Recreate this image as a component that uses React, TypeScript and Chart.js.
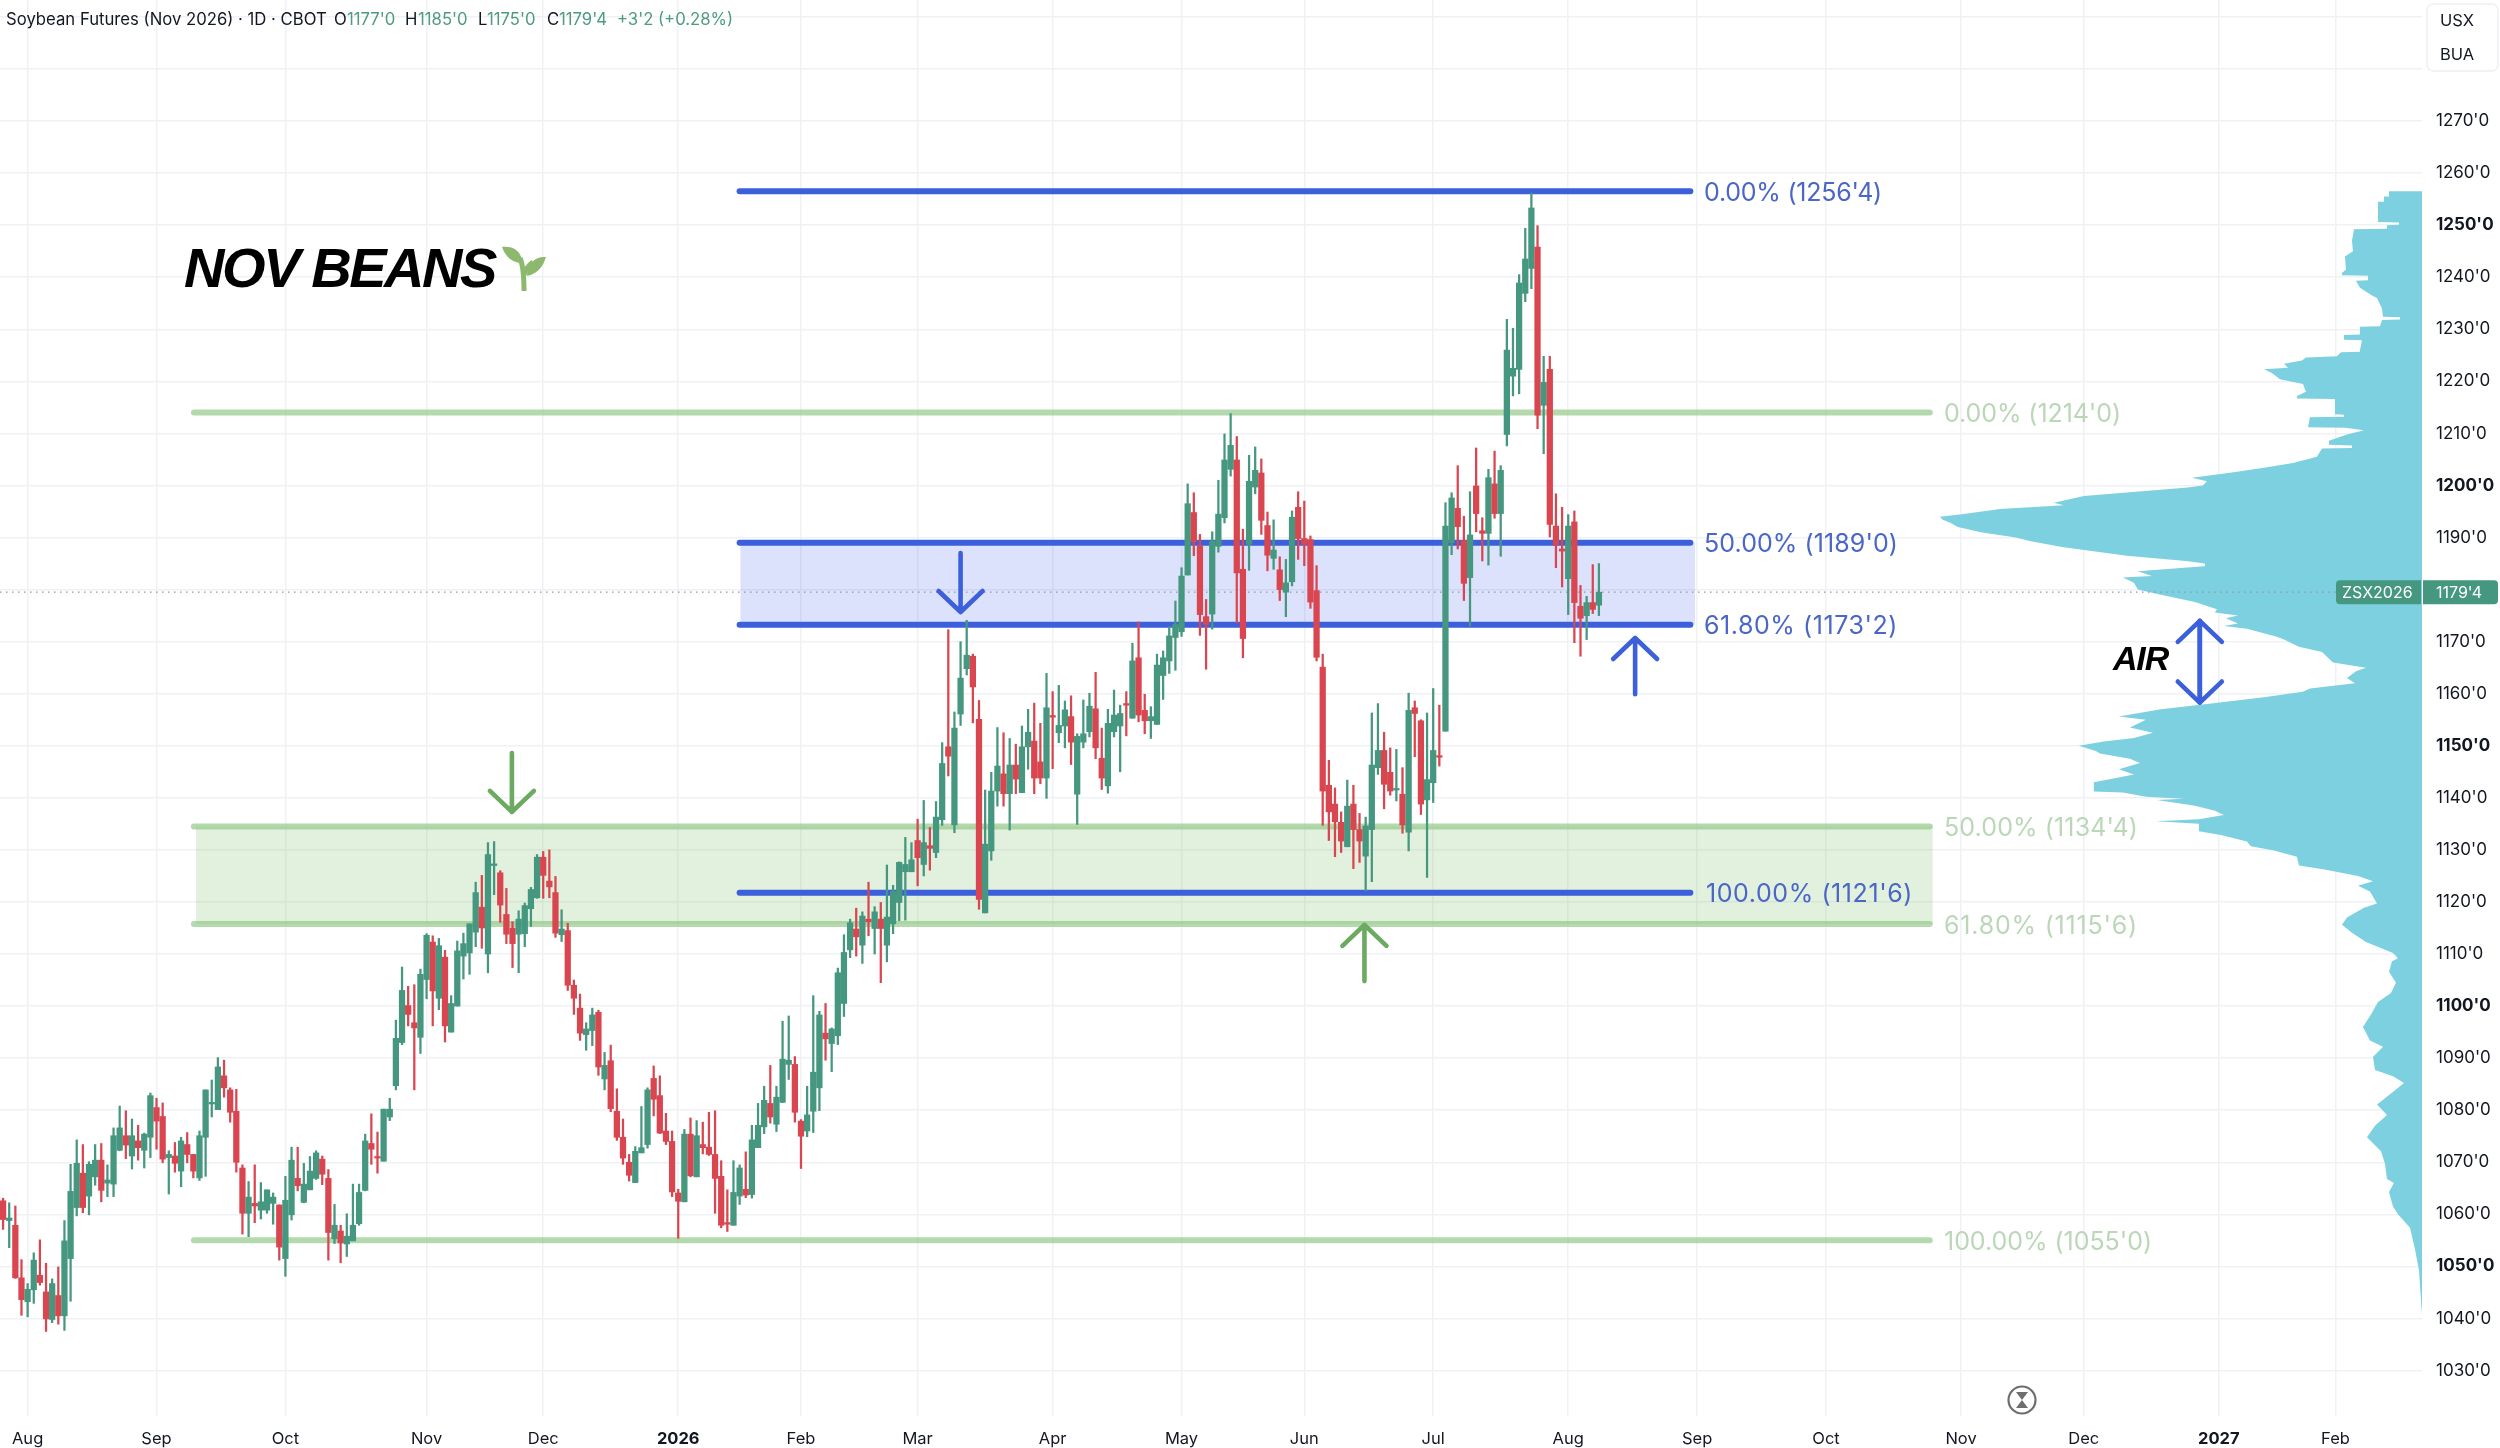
import React, { useEffect, useRef } from "react";
import { Chart, registerables } from "chart.js";

Chart.register(...registerables);

const FONT = "Inter";
const firstBar = -4;

const highs = [
1063.1,1062.2,1061.6,1051.3,1046.7,1052.6,1055.1,1050.6,1047.6,1049.9,
1058.8,1069.6,1074.3,1073.4,1070.1,1073.4,1073.6,1069.5,1076.6,1080.8,
1079.9,1078.3,1077.1,1075.6,1083.3,1082.3,1081.4,1072.2,1073.8,1074.8,
1075.7,1071.5,1076.0,1083.9,1085.8,1090.1,1089.6,1084.3,1084.0,1069.5,
1066.3,1069.5,1066.1,1064.7,1064.1,1061.8,1067.3,1072.9,1072.9,1069.8,
1071.1,1072.2,1071.2,1068.6,1061.9,1057.9,1060.1,1065.8,1065.8,1075.4,
1079.3,1075.8,1080.2,1082.3,1097.3,1107.5,1103.8,1104.1,1107.1,1113.9,
1113.5,1113.0,1110.7,1102.0,1112.5,1114.0,1115.8,1123.8,1125.1,1131.4,
1131.6,1126.0,1122.6,1116.2,1118.3,1119.8,1122.8,1129.1,1129.7,1130.0,
1124.9,1118.5,1115.9,1105.0,1102.3,1096.8,1099.6,1099.2,1091.1,1092.5,
1084.1,1078.3,1071.5,1073.0,1080.7,1084.3,1088.5,1086.6,1079.4,1076.0,
1064.8,1076.3,1078.5,1078.0,1077.7,1079.6,1079.9,1070.3,1064.7,1070.3,
1069.5,1072.0,1077.1,1081.3,1084.6,1088.6,1084.6,1097.1,1098.1,1090.3,
1078.2,1084.6,1102.0,1099.0,1100.5,1095.8,1107.3,1113.7,1116.7,1118.8,
1118.1,1123.8,1119.1,1119.9,1127.1,1123.2,1127.7,1132.4,1131.4,1135.9,
1139.5,1134.3,1139.3,1150.6,1172.3,1156.5,1170.0,1174.1,1167.6,1158.7,
1141.5,1144.9,1153.5,1152.5,1151.4,1150.3,1153.8,1157.0,1158.2,1154.3,
1163.9,1160.4,1161.6,1158.6,1159.6,1152.3,1158.8,1160.1,1164.1,1153.4,
1157.0,1160.7,1157.8,1160.4,1169.7,1173.8,1159.9,1157.5,1167.6,1168.2,
1172.9,1177.8,1184.2,1200.3,1198.6,1190.6,1178.1,1191.1,1201.0,1209.9,
1213.8,1209.4,1191.6,1205.8,1207.4,1205.1,1194.9,1193.4,1186.3,1185.8,
1195.1,1198.8,1197.0,1190.3,1184.6,1167.6,1147.2,1141.9,1137.3,1143.4,
1142.4,1137.0,1136.3,1156.3,1158.1,1152.6,1149.6,1149.3,1145.8,1160.1,
1158.6,1155.0,1156.3,1161.0,1157.8,1196.7,1198.6,1203.8,1194.1,1198.8,
1207.2,1193.8,1203.1,1206.6,1203.8,1231.9,1230.2,1240.5,1249.4,1256.2,
1249.9,1224.8,1224.8,1198.4,1195.8,1194.4,1195.1,1180.8,1178.7,1184.8,1185,
];

const lows = [
1057.1,1053.6,1047.7,1040.6,1040.3,1042.9,1046.4,1037.5,1039.2,1038.9,
1037.7,1043.3,1059.7,1060.3,1059.9,1065.6,1062.4,1063.4,1063.4,1072.2,
1070.7,1068.7,1070.4,1068.9,1070.9,1072.5,1069.9,1063.9,1068.1,1065.3,
1069.9,1067.0,1066.5,1067.3,1078.7,1080.1,1082.5,1077.7,1068.1,1056.2,
1055.7,1058.4,1059.1,1060.2,1058.1,1051.2,1048.1,1058.9,1064.5,1062.2,
1064.7,1066.7,1065.7,1051.2,1054.4,1050.7,1051.9,1054.9,1057.9,1064.5,
1069.6,1067.9,1070.2,1078.0,1083.9,1092.6,1096.2,1083.9,1090.9,1101.4,
1096.2,1099.3,1093.1,1095.0,1100.0,1105.2,1106.1,1111.4,1111.1,1106.4,
1121.4,1116.1,1112.0,1107.4,1106.4,1111.4,1115.3,1120.7,1120.7,1120.8,
1113.2,1112.4,1103.0,1098.4,1093.4,1091.5,1092.4,1086.7,1083.9,1079.7,
1074.2,1069.6,1066.4,1066.1,1071.8,1072.7,1078.9,1075.5,1073.4,1063.4,
1055.4,1062.4,1067.2,1067.2,1071.6,1071.3,1060.2,1057.4,1056.7,1057.9,
1061.9,1063.2,1063.1,1072.8,1075.5,1077.5,1075.9,1081.5,1085.9,1077.7,
1068.8,1074.9,1075.7,1079.9,1089.6,1087.4,1092.6,1098.0,1109.3,1109.6,
1108.2,1113.5,1110.0,1104.5,1108.5,1113.9,1116.4,1116.5,1125.8,1123.1,
1125.0,1126.1,1128.5,1134.7,1144.2,1133.3,1153.9,1163.6,1154.4,1118.6,
1117.9,1128.0,1138.4,1138.4,1133.8,1140.8,1141.0,1145.5,1140.8,1142.7,
1139.9,1145.6,1150.6,1149.6,1146.4,1134.9,1149.6,1151.7,1147.5,1141.6,
1140.9,1151.7,1145.0,1151.9,1155.3,1154.6,1152.3,1151.4,1154.1,1158.9,
1163.9,1164.5,1171.0,1182.8,1186.5,1171.2,1164.7,1172.4,1187.2,1192.8,
1201.8,1173.6,1166.9,1183.7,1198.4,1190.6,1183.6,1183.9,1177.9,1174.8,
1180.7,1185.8,1184.6,1176.4,1166.3,1134.7,1131.8,1128.7,1129.5,1130.6,
1126.4,1127.6,1122.1,1123.9,1144.5,1137.9,1140.5,1139.4,1133.2,1129.8,
1147.9,1136.8,1124.7,1139.1,1146.1,1152.8,1186.7,1187.8,1177.9,1173.0,
1191.1,1185.5,1184.7,1193.7,1186.4,1207.6,1217.2,1217.6,1235.3,1237.8,
1210.9,1206.1,1190.1,1184.2,1180.5,1175.2,1169.8,1167.2,1170.4,1175.4,1175,
];

const opens = [
1062.6,1058.8,1057.9,1047.8,1043.2,1045.5,1048.3,1045.1,1039.8,1044.4,
1040.5,1051.5,1061.3,1067.9,1063.5,1067.2,1070.4,1066.0,1065.8,1072.3,
1075.1,1071.2,1074.1,1072.3,1074.8,1080.5,1078.8,1070.9,1071.2,1068.3,
1073.4,1071.5,1067.0,1074.8,1081.2,1080.1,1086.6,1083.9,1079.8,1068.9,
1060.2,1062.1,1060.8,1060.8,1062.1,1061.8,1051.5,1059.9,1066.9,1062.3,
1064.7,1066.9,1070.6,1066.9,1055.3,1056.8,1054.3,1054.9,1058.2,1064.6,
1073.6,1071.1,1070.2,1078.7,1084.7,1093.0,1100.1,1096.8,1094.0,1105.1,
1112.3,1101.5,1109.4,1095.0,1100.0,1109.6,1110.2,1114.2,1119.0,1110.0,
1127.0,1125.6,1117.6,1115.0,1113.8,1113.9,1118.7,1120.8,1128.6,1124.0,
1121.8,1113.7,1114.5,1104.0,1099.6,1094.5,1095.3,1098.8,1086.0,1089.5,
1079.8,1074.8,1070.0,1066.1,1071.8,1073.4,1086.1,1082.8,1076.0,1074.0,
1064.1,1062.4,1075.4,1067.2,1073.4,1072.9,1071.5,1067.3,1058.2,1057.9,
1063.5,1064.8,1063.8,1072.8,1076.8,1081.3,1077.3,1081.5,1088.8,1088.8,
1077.9,1076.0,1079.8,1084.3,1094.8,1092.8,1094.3,1100.5,1110.8,1114.8,
1111.7,1116.7,1114.9,1116.7,1111.7,1115.8,1119.9,1125.8,1125.8,1131.8,
1127.2,1130.8,1129.5,1135.8,1149.8,1134.8,1156.1,1164.8,1167.2,1155.1,
1117.9,1129.8,1141.3,1144.6,1140.8,1146.3,1141.0,1149.8,1150.9,1146.9,
1143.8,1155.8,1152.5,1153.8,1155.6,1140.7,1150.7,1152.7,1157.1,1147.6,
1142.3,1152.7,1153.8,1158.1,1155.3,1166.9,1156.8,1154.8,1154.1,1163.5,
1166.3,1170.8,1171.9,1182.8,1194.8,1188.4,1174.8,1175.3,1188.3,1193.8,
1203.1,1204.9,1183.9,1188.7,1199.7,1202.4,1192.3,1186.0,1183.8,1179.5,
1181.5,1195.8,1189.8,1189.6,1179.8,1165.1,1142.4,1138.8,1135.3,1130.6,
1138.8,1133.9,1128.8,1133.9,1145.8,1149.1,1144.9,1141.5,1140.7,1133.4,
1157.3,1154.8,1139.6,1142.9,1148.0,1152.8,1189.0,1195.6,1189.4,1182.3,
1199.9,1191.3,1190.8,1200.3,1194.6,1209.8,1221.0,1222.3,1236.9,1241.7,
1245.8,1215.4,1222.3,1192.2,1187.8,1182.1,1193.0,1176.8,1175.0,1177.5,1177,
];

const closes = [
1059.0,1059.3,1047.8,1043.6,1045.6,1051.2,1046.9,1039.9,1046.7,1040.5,
1054.9,1064.4,1069.8,1061.3,1069.6,1070.4,1064.6,1066.6,1075.1,1076.6,
1073.3,1075.1,1072.8,1075.4,1082.8,1077.9,1070.6,1071.5,1069.8,1074.1,
1071.5,1068.3,1075.1,1083.9,1081.5,1088.3,1084.3,1079.6,1070.0,1060.2,
1063.3,1061.6,1062.4,1064.7,1063.3,1053.7,1062.7,1070.4,1065.5,1065.8,
1068.3,1071.8,1067.7,1056.5,1057.9,1054.5,1055.8,1057.9,1064.2,1074.1,
1072.5,1070.8,1080.2,1080.2,1093.8,1103.0,1098.4,1095.8,1106.1,1113.6,
1102.9,1111.6,1096.2,1100.5,1110.6,1112.0,1115.8,1121.8,1115.0,1129.1,
1127.3,1119.4,1113.8,1112.0,1116.7,1119.3,1122.4,1128.6,1125.1,1122.9,
1114.0,1114.8,1104.0,1101.5,1094.8,1095.6,1098.3,1088.3,1088.6,1080.3,
1074.8,1070.8,1067.5,1072.1,1072.8,1083.9,1082.1,1075.6,1074.0,1064.3,
1062.5,1075.4,1067.4,1075.1,1072.8,1071.5,1066.9,1057.9,1058.1,1064.2,
1068.9,1063.7,1074.3,1077.1,1081.9,1078.7,1082.5,1089.8,1089.6,1079.6,
1075.0,1079.1,1087.3,1098.3,1093.7,1095.6,1106.4,1110.3,1116.0,1113.3,
1117.3,1116.2,1118.1,1114.9,1117.1,1122.0,1127.6,1127.2,1128.1,1128.5,
1131.4,1130.3,1136.3,1146.6,1148.0,1153.4,1163.0,1167.4,1161.3,1120.5,
1131.1,1141.3,1146.1,1140.8,1146.3,1143.6,1149.8,1152.6,1143.8,1143.8,
1157.3,1155.5,1153.9,1156.9,1150.7,1151.8,1152.3,1157.6,1149.6,1143.8,
1154.3,1155.9,1156.2,1157.8,1166.3,1155.9,1154.8,1155.6,1165.5,1166.9,
1171.1,1173.3,1182.6,1196.5,1189.2,1175.2,1173.3,1189.3,1194.5,1204.9,
1207.7,1183.2,1170.6,1200.8,1202.9,1193.3,1186.6,1187.6,1180.0,1181.3,
1193.9,1189.8,1188.7,1177.6,1167.0,1141.3,1137.3,1135.4,1131.7,1138.4,
1133.9,1131.7,1134.6,1146.3,1149.1,1142.6,1141.3,1141.8,1134.8,1156.8,
1156.2,1138.8,1143.5,1149.1,1147.8,1192.2,1197.6,1192.1,1181.2,1190.5,
1194.6,1190.8,1201.5,1194.6,1202.9,1226.0,1222.5,1238.9,1243.5,1253.3,
1213.5,1219.8,1192.5,1188.5,1187.4,1192.2,1177.5,1174.5,1177.5,1176.2,1179.5,
];

const profilePrices = [
1256.5,1256.5,1255.5,1255.5,1254.5,1254.5,1250.6,1250.5,1250.1,1250,1249.3,1249.2,1247,1245,1244,1241.5,1240.8,1240.4,1240.3,1239.4,1239.3,1238,1236.5,1236,1234,1232.4,1232.3,1231.9,1231.8,1230.6,1230.5,1229,1228.9,1228,1227.9,1226,1225.7,1225.6,1224.8,1224.6,1224,1223.4,1222.6,1222.3,1221.6,1220.4,1219.5,1218,1217.2,1216.7,1216.6,1213.7,1213.6,1213.2,1213.1,1211.2,1211.1,1210.6,1209.8,1208.6,1207.8,1207.7,1207.2,1207.1,1205.5,1204.3,1203.4,1202.5,1201.5,
1200.8,1200,1199.6,1198,1196.7,1196.2,1195.5,1194.5,1194,1193.4,1192.8,1192,1191,1190,1189.3,1188.2,1186.5,1185.5,1185,1184.5,1184.2,1183.5,1182.6,1182.3,1181.3,1180,1179,1177.6,1176.2,1175.6,1175,1174.5,1173.5,1173,1172.5,1171,1170.5,1169,1168,1166,1165,1164.3,1163,1162,1161,1160.4,1159.3,1158,1157,1155.6,1155,1153.5,1152.5,1151.5,1150.8,1150,1149,1148.5,1147.5,1146.7,1145.5,1144.5,1143,1141.2,1141,1140.2,1139.8,1139.6,1138.5,1137.5,1136.7,1135.9,1135.5,1135,1133.6,1132.8,1131.6,1130.7,1129.9,1128.7,1127,1126.2,1125,1124,1123.1,1122,1119.7,1118.9,1117,1115.6,1114.1,1112.3,1110.2,1109.2,1108.6,1106.6,1104.5,1102.5,1100.8,1098.4,1096,1093.4,1092.2,1090.2,1087.7,1086.5,1085.2,1083.2,1081.1,1079.1,1077,1074.8,1072.1,1069.7,1066.8,1066,1064.3,1061.5,1060,1057.4,1053.3,1049.2,1045,1040.6,
];

const profileVolumes = [
0,33,33,38,38,44,44,23,23,35,35,68,70,69,77,76,80,80,54,54,66,62,50,45,40,39,22,22,40,42,62,62,78,78,60,62,62,81,85,116,120,138,134,158,150,142,119,116,125,125,87,87,78,78,112,114,77,58,75,93,93,70,70,100,105,129,158,190,230,
215,219,234,338,368,358,422,458,482,479,471,464,441,406,391,360,295,236,217,217,238,284,270,299,288,284,261,227,205,207,184,196,184,198,175,146,139,123,100,89,56,66,75,67,112,119,158,215,261,303,276,292,269,288,318,343,326,322,292,282,303,288,328,328,299,276,238,265,227,207,198,223,266,223,223,200,175,171,148,125,123,96,64,49,64,52,45,58,75,80,70,56,29,24,30,33,26,31,44,51,59,52,39,49,47,29,18,31,45,35,47,55,41,37,35,28,33,29,24,12,7,3,1.5,0,
];
const profileAxisMax = 2421;

const priceTicks = [1290,1280,1270,1260,1250,1240,1230,1220,1210,1200,1190,1180,1170,1160,1150,1140,1130,1120,1110,1100,1090,1080,1070,1060,1050,1040,1030];
const boldPrices = [1250, 1200, 1150, 1100, 1050];
const hiddenPriceLabels = [1290, 1280, 1180];

const monthBars = [0, 21, 42, 65, 84, 106, 126, 145, 167, 188, 208, 229, 251, 272, 293, 315, 335, 357, 376];
const monthLabels = ["Aug", "Sep", "Oct", "Nov", "Dec", "2026", "Feb", "Mar", "Apr", "May", "Jun", "Jul", "Aug", "Sep", "Oct", "Nov", "Dec", "2027", "Feb"];

const blueFib = { start: 116.0, end: 270.9, bandStart: 116.1, bandEnd: 271.7, levels: [1256.5, 1189, 1173.25, 1121.75], labels: ["0.00% (1256'4)", "50.00% (1189'0)", "61.80% (1173'2)", "100.00% (1121'6)"] };
const greenFib = { start: 27.1, end: 309.9, bandStart: 27.4, bandEnd: 310.4, levels: [1214, 1134.5, 1115.75, 1055], labels: ["0.00% (1214'0)", "50.00% (1134'4)", "61.80% (1115'6)", "100.00% (1055'0)"] };
const blueLabelWidths = [178, 194, 194, 207];
const greenLabelWidths = [177, 194, 194, 208];

const lastPrice = 1179.5;
const xMinBar = -4.5;
const xMaxBar = 390.1;
const yMin = 1021.26;
const yMax = 1293.25;

const GREEN = "#45977F";
const RED = "#DA4650";
const BLUE = "#3C5FDC";
const ARROW_GREEN = "#6BAA60";

const arrows = [
  { bar: 152.0, tip: 1175.7, tail: 1187, color: BLUE },
  { bar: 261.9, tip: 1170.7, tail: 1159.9, color: BLUE },
  { bar: 78.9, tip: 1137.3, tail: 1148.6, color: ARROW_GREEN },
  { bar: 217.8, tip: 1115.6, tail: 1104.8, color: ARROW_GREEN },
  { bar: 353.9, tip: 1174, tail: 1158.3, color: BLUE },
  { bar: 353.9, tip: 1158.3, tail: 1174, color: BLUE },
];

function fitText(ctx: any, text: string, x: number, y: number, width: number) {
  ctx.letterSpacing = "0px";
  const natural = ctx.measureText(text).width;
  ctx.letterSpacing = `${(width - natural) / text.length}px`;
  ctx.fillText(text, x, y);
  ctx.letterSpacing = "0px";
}

const overlayPlugin = {
  id: "overlay",
  afterDatasetsDraw(chart: any) {
    const ctx = chart.ctx;
    const xs = chart.scales.x;
    const ys = chart.scales.y;
    ctx.save();
    ctx.textBaseline = "middle";
    ctx.textAlign = "left";

    ctx.font = `400 25px ${FONT}`;
    ctx.fillStyle = "#4A66C6";
    blueFib.levels.forEach((lv, i) => {
      const px = i === 3 ? 1706 : 1704;
      fitText(ctx, blueFib.labels[i], px, ys.getPixelForValue(lv) + 2, blueLabelWidths[i]);
    });
    ctx.fillStyle = "#BBD7B8";
    greenFib.levels.forEach((lv, i) => {
      fitText(ctx, greenFib.labels[i], 1944, ys.getPixelForValue(lv) + 2, greenLabelWidths[i]);
    });

    ctx.lineCap = "round";
    ctx.lineJoin = "round";
    arrows.forEach((a) => {
      const x = xs.getPixelForValue(a.bar);
      const yt = ys.getPixelForValue(a.tip);
      const yb = ys.getPixelForValue(a.tail);
      const dir = yb > yt ? 1 : -1;
      ctx.strokeStyle = a.color;
      ctx.lineWidth = 4.6;
      ctx.beginPath();
      ctx.moveTo(x, yb);
      ctx.lineTo(x, yt);
      ctx.moveTo(x - 22, yt + dir * 21);
      ctx.lineTo(x, yt);
      ctx.lineTo(x + 22, yt + dir * 21);
      ctx.stroke();
    });

    ctx.fillStyle = "#000";
    ctx.font = `italic 700 56px "Liberation Sans"`;
    fitText(ctx, "NOV BEANS", 184, 272, 311);
    ctx.font = `italic 700 34px "Liberation Sans"`;
    fitText(ctx, "AIR", 2113, 661, 55);

    ctx.strokeStyle = "#8DB96F";
    ctx.fillStyle = "#8DB96F";
    ctx.lineWidth = 5;
    ctx.lineCap = "butt";
    ctx.beginPath();
    ctx.moveTo(524, 291);
    ctx.bezierCurveTo(524, 275, 523, 265, 520, 258);
    ctx.moveTo(524, 275);
    ctx.bezierCurveTo(525, 270, 529, 265, 533, 262);
    ctx.stroke();
    ctx.beginPath();
    ctx.moveTo(502, 247);
    ctx.bezierCurveTo(512, 246, 522, 250, 522, 263);
    ctx.bezierCurveTo(512, 263, 505, 256, 502, 247);
    ctx.moveTo(546, 257);
    ctx.bezierCurveTo(536, 256, 527, 263, 527, 276);
    ctx.bezierCurveTo(537, 274, 543, 267, 546, 257);
    ctx.fill();

    ctx.font = `400 16.7px ${FONT}`;
    ctx.fillStyle = "#131722";
    ctx.fillText("Soybean Futures (Nov 2026) · 1D · CBOT", 6, 20);
    [["O", 334], ["H", 405], ["L", 478], ["C", 547]].forEach(([t, x]: any) => ctx.fillText(t, x, 20));
    ctx.fillStyle = "#4F9A84";
    [["1177'0", 347], ["1185'0", 418], ["1175'0", 487], ["1179'4", 559], ["+3'2 (+0.28%)", 617]].forEach(([t, x]: any) => ctx.fillText(t, x, 20));

    ctx.strokeStyle = "#EEF0F2";
    ctx.lineWidth = 1.5;
    ctx.fillStyle = "#fff";
    ctx.beginPath();
    ctx.roundRect(2427, 4, 71, 67, 6);
    ctx.fill();
    ctx.stroke();
    ctx.fillStyle = "#131722";
    ctx.font = `400 16.5px ${FONT}`;
    ctx.fillText("USX", 2440, 21);
    ctx.fillText("BUA", 2440, 55);

    const tagY = ys.getPixelForValue(lastPrice);
    ctx.fillStyle = "#45977F";
    ctx.beginPath();
    ctx.roundRect(2336, tagY - 12, 85, 24, [4, 0, 0, 4]);
    ctx.fill();
    ctx.beginPath();
    ctx.roundRect(2423, tagY - 12, 75, 24, [0, 4, 4, 0]);
    ctx.fill();
    ctx.fillStyle = "#FFFFFF";
    ctx.font = `400 16px ${FONT}`;
    ctx.fillText("ZSX2026", 2342, tagY + 0.5);
    ctx.fillText("1179'4", 2436, tagY + 0.5);

    ctx.strokeStyle = "#6E6E6E";
    ctx.fillStyle = "#6E6E6E";
    ctx.lineWidth = 2.2;
    ctx.beginPath();
    ctx.arc(2022, 1400, 13.5, 0, Math.PI * 2);
    ctx.stroke();
    ctx.beginPath();
    ctx.moveTo(2016, 1392);
    ctx.lineTo(2028, 1392);
    ctx.lineTo(2022, 1400);
    ctx.lineTo(2028, 1408);
    ctx.lineTo(2016, 1408);
    ctx.lineTo(2022, 1400);
    ctx.closePath();
    ctx.fill();
    ctx.restore();
  },
};

function hLine(start: number, end: number, level: number) {
  return [{ x: start, y: level }, { x: end, y: level }];
}

export default function App() {
  const ref = useRef<HTMLCanvasElement | null>(null);

  useEffect(() => {
    if (!ref.current) return;
    const barX = (i: number) => firstBar + i;
    const colors = closes.map((c, i) => (c >= opens[i] ? GREEN : RED));
    const fibLine = (start: number, end: number, lv: number, color: string, order: number) => ({
      type: "line",
      data: hLine(start, end, lv),
      borderColor: color,
      borderWidth: 6,
      borderCapStyle: "round",
      pointRadius: 0,
      order,
    });
    const bandEdge = (start: number, end: number, lv: number, fill: any, color: string) => ({
      type: "line",
      data: hLine(start, end, lv),
      borderWidth: 0,
      borderColor: "rgba(0,0,0,0)",
      backgroundColor: color,
      pointRadius: 0,
      fill,
      order: 5,
    });
    const datasets: any[] = [
      {
        type: "bar",
        data: highs.map((h, i) => ({ x: barX(i), y: [lows[i], h] })),
        backgroundColor: colors,
        barThickness: 1.6,
        grouped: false,
        order: 1,
      },
      {
        type: "bar",
        data: opens.map((o, i) => ({ x: barX(i), y: [Math.min(o, closes[i]), Math.max(o, closes[i])] })),
        backgroundColor: colors,
        barThickness: 5.6,
        minBarLength: 1.6,
        grouped: false,
        order: 0,
      },
      {
        type: "line",
        data: hLine(xMinBar, xMaxBar, lastPrice),
        borderColor: "#8E98A0",
        borderWidth: 1.3,
        borderDash: [1.5, 4.5],
        pointRadius: 0,
        order: 2,
      },
      ...greenFib.levels.map((lv) => fibLine(greenFib.start, greenFib.end, lv, "rgba(150,202,140,0.72)", 3)),
      ...blueFib.levels.map((lv) => fibLine(blueFib.start, blueFib.end, lv, BLUE, 2.5)),
      bandEdge(greenFib.bandStart, greenFib.bandEnd, greenFib.levels[1], "+1", "rgba(140,195,125,0.25)"),
      bandEdge(greenFib.bandStart, greenFib.bandEnd, greenFib.levels[2], false, "rgba(0,0,0,0)"),
      bandEdge(blueFib.bandStart, blueFib.bandEnd, blueFib.levels[1], "+1", "rgba(80,110,235,0.2)"),
      bandEdge(blueFib.bandStart, blueFib.bandEnd, blueFib.levels[2], false, "rgba(0,0,0,0)"),
      {
        type: "line",
        xAxisID: "xVol",
        data: profilePrices.map((p, i) => ({ x: profileVolumes[i], y: p })),
        borderWidth: 0,
        borderColor: "rgba(0,0,0,0)",
        backgroundColor: "#7DD0E0",
        pointRadius: 0,
        fill: "shape",
        order: 6,
      },
    ];

    const chart = new Chart(ref.current, {
      type: "bar",
      data: { datasets },
      plugins: [overlayPlugin],
      options: {
        animation: false,
        responsive: false,
        devicePixelRatio: 1,
        layout: { padding: 0 },
        plugins: { legend: { display: false }, tooltip: { enabled: false }, title: { display: false } },
        scales: {
          x: {
            type: "linear",
            min: xMinBar,
            max: xMaxBar,
            offset: false,
            position: "bottom",
            afterFit: (s: any) => { s.height = 32; s.paddingLeft = 0; s.paddingRight = 0; },
            afterBuildTicks: (s: any) => { s.ticks = monthBars.map((value) => ({ value })); },
            grid: { color: "#F0F1F4", lineWidth: 1.5, offset: false, drawTicks: false },
            border: { display: false },
            ticks: {
              autoSkip: false,
              maxRotation: 0,
              padding: 13,
              color: "#131722",
              font: (c: any) => ({ family: FONT, size: 16.5, weight: /^20/.test(monthLabels[c.index] || "") ? 700 : 400 }),
              callback: (_v: any, i: number) => monthLabels[i],
            },
          },
          xVol: {
            type: "linear",
            display: false,
            reverse: true,
            min: 0,
            max: profileAxisMax,
            offset: false,
            grid: { display: false },
          },
          y: {
            type: "linear",
            min: yMin,
            max: yMax,
            position: "right",
            afterFit: (s: any) => { s.width = 78; s.paddingTop = 0; s.paddingBottom = 0; },
            afterBuildTicks: (s: any) => { s.ticks = priceTicks.map((value) => ({ value })); },
            grid: { color: "#F0F1F4", lineWidth: 1.5, drawTicks: false },
            border: { display: false },
            ticks: {
              autoSkip: false,
              includeBounds: false,
              crossAlign: "near",
              padding: 14,
              color: "#131722",
              font: (c: any) => ({ family: FONT, size: 17, weight: c.tick && boldPrices.includes(c.tick.value) ? 700 : 400 }),
              callback: (v: any) => (hiddenPriceLabels.includes(v) ? "" : `${v}'0`),
            },
          },
        },
      } as any,
    } as any);
    return () => chart.destroy();
  }, []);

  return (
    <div style={{ position: "fixed", left: 0, top: 0, width: 2500, height: 1448, background: "#fff" }}>
      <canvas ref={ref} width={2500} height={1448} style={{ display: "block", width: 2500, height: 1448 }} />
    </div>
  );
}
